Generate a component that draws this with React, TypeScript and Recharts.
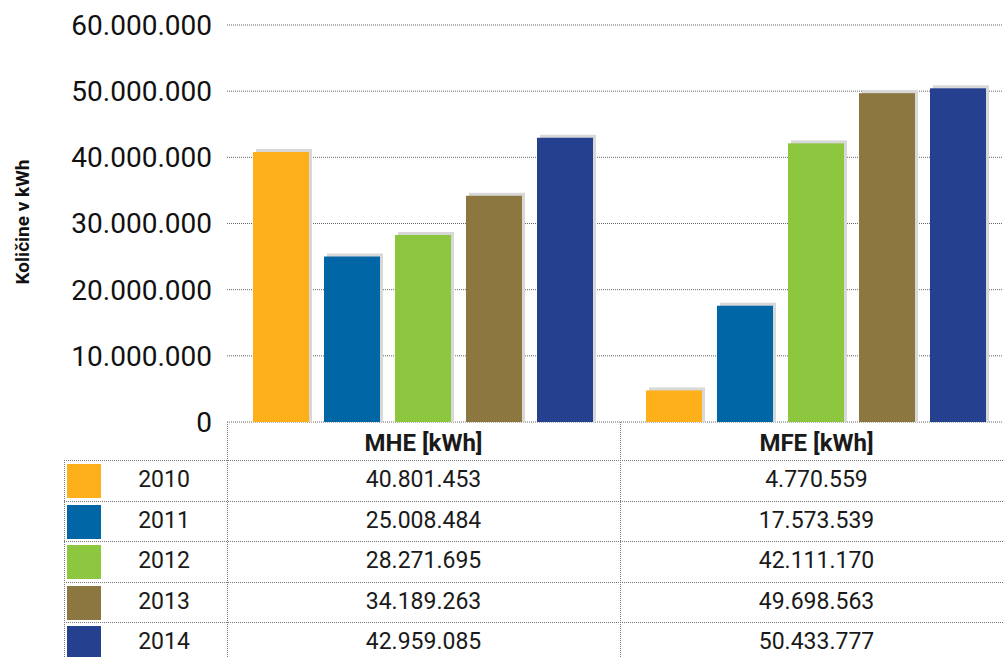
import { Bar, BarChart, CartesianGrid, XAxis, YAxis } from "recharts";

const categories = ["MHE [kWh]", "MFE [kWh]"];
const years = ["2010", "2011", "2012", "2013", "2014"];
const mheValues = [40801453, 25008484, 28271695, 34189263, 42959085];
const mfeValues = [4770559, 17573539, 42111170, 49698563, 50433777];
const yTicks = [0, 10000000, 20000000, 30000000, 40000000, 50000000, 60000000];
const yearColors = ["#FDB01A", "#0066A6", "#8DC63F", "#8C7741", "#25408F"];

const seriesByCategory = [mheValues, mfeValues];

const data = categories.map((name, ci) => {
  const row: Record<string, string | number> = { name };
  years.forEach((y, i) => {
    row[y] = seriesByCategory[ci][i];
  });
  return row;
});

const fmt = (v: number) => String(v).replace(/\B(?=(\d{3})+(?!\d))/g, ".");

const FONT = "Roboto, 'Open Sans', sans-serif";
const LINE = "1px dotted #777";

const COL_LEFT = 64;
const COL_MHE = 227;
const COL_MFE = 620;
const COL_END = 1013;
const HEAD_TOP = 422;
const HEAD_H = 38;
const ROW_H = 40.5;

function ShadowBar(props: any) {
  const { x, y, width, height, fill } = props;
  if (!height || height <= 0) return null;
  return (
    <g>
      <rect x={x + 3} y={y - 3} width={width} height={height + 3} fill="#d8d8d8" />
      <rect x={x} y={y} width={width} height={height} fill={fill} />
    </g>
  );
}

function hLine(top: number, left: number, right: number, key: string) {
  return (
    <div
      key={key}
      style={{ position: "absolute", top, left, width: right - left, height: 0, borderTop: LINE }}
    />
  );
}

function vLine(left: number, top: number, bottom: number, key: string) {
  return (
    <div
      key={key}
      style={{ position: "absolute", top, left, width: 0, height: bottom - top, borderLeft: LINE }}
    />
  );
}

function cell(left: number, top: number, width: number, height: number, text: string, bold: boolean, key: string) {
  return (
    <div
      key={key}
      style={{
        position: "absolute",
        left,
        top,
        width,
        height,
        lineHeight: `${height}px`,
        textAlign: "center",
        fontFamily: FONT,
        fontSize: bold ? 24 : 23,
        fontWeight: bold ? 700 : 400,
        color: "#1a1a1a",
        whiteSpace: "nowrap"
      }}
    >
      {text}
    </div>
  );
}

function DataTable() {
  const parts: any[] = [];
  // header
  categories.forEach((c, ci) => {
    const left = ci === 0 ? COL_MHE : COL_MFE;
    const right = ci === 0 ? COL_MFE : COL_END;
    parts.push(cell(left, HEAD_TOP + 2, right - left, HEAD_H, c, true, `h${ci}`));
  });
  years.forEach((y, i) => {
    const top = HEAD_TOP + HEAD_H + i * ROW_H;
    parts.push(hLine(top, COL_LEFT, COL_END, `hl${i}`));
    parts.push(
      <div
        key={`sw${i}`}
        style={{
          position: "absolute",
          left: COL_LEFT + 3,
          top: top + 4,
          width: 34,
          height: 34,
          background: yearColors[i]
        }}
      />
    );
    parts.push(cell(COL_LEFT + 37, top, COL_MHE - COL_LEFT - 37, ROW_H, y, false, `y${i}`));
    parts.push(cell(COL_MHE, top, COL_MFE - COL_MHE, ROW_H, fmt(mheValues[i]), false, `a${i}`));
    parts.push(cell(COL_MFE, top, COL_END - COL_MFE, ROW_H, fmt(mfeValues[i]), false, `b${i}`));
  });
  const bottom = HEAD_TOP + HEAD_H + years.length * ROW_H;
  parts.push(hLine(bottom, COL_LEFT, COL_END, "hlb"));
  parts.push(vLine(COL_LEFT, HEAD_TOP + HEAD_H, bottom, "v0"));
  parts.push(vLine(COL_MHE, HEAD_TOP, bottom, "v1"));
  parts.push(vLine(COL_MFE, HEAD_TOP, bottom, "v2"));
  return <>{parts}</>;
}

export default function App() {
  return (
    <div
      style={{
        position: "absolute",
        left: 0,
        top: 0,
        width: 1003,
        height: 657,
        overflow: "hidden",
        background: "#fff"
      }}
    >
      <BarChart
        width={1013}
        height={657}
        data={data}
        margin={{ top: 25, right: 0, bottom: 235, left: 0 }}
        barCategoryGap={26}
        barGap={15}
      >
        <CartesianGrid vertical={false} stroke="#666" strokeDasharray="1 1" />
        <XAxis dataKey="name" hide />
        <YAxis
          width={227}
          domain={[0, 60000000]}
          ticks={yTicks}
          tickFormatter={fmt}
          axisLine={false}
          tickLine={false}
          tickSize={0}
          tickMargin={15}
          tick={{ fontSize: 28, fill: "#111", fontFamily: FONT }}
        />
        {years.map((y, i) => (
          <Bar
            key={y}
            dataKey={y}
            fill={yearColors[i]}
            isAnimationActive={false}
            shape={<ShadowBar />}
          />
        ))}
      </BarChart>
      <DataTable />
      <div
        style={{
          position: "absolute",
          left: 22,
          top: 222,
          transform: "translate(-50%, -50%) rotate(-90deg)",
          fontFamily: FONT,
          fontWeight: 700,
          fontSize: 19,
          color: "#111",
          whiteSpace: "nowrap"
        }}
      >
        Količine v kWh
      </div>
    </div>
  );
}
